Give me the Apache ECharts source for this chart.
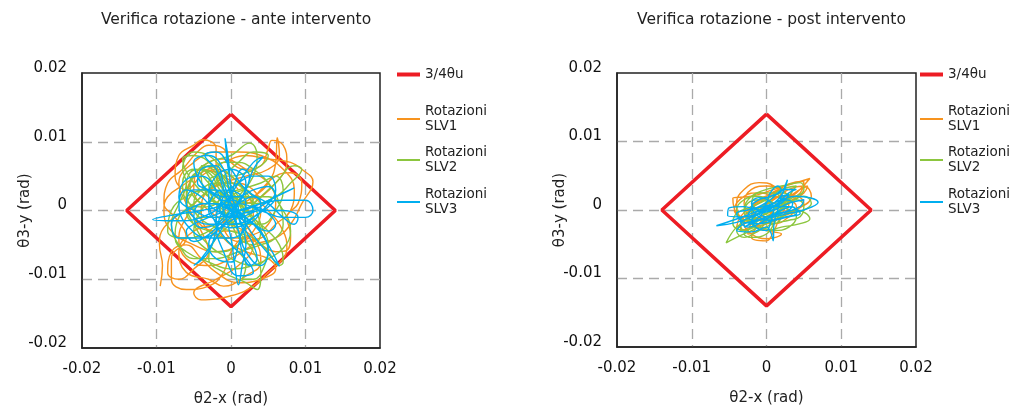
<!DOCTYPE html>
<html>
<head>
<meta charset="utf-8">
<script src="https://cdn.jsdelivr.net/npm/echarts@6/dist/echarts.min.js"></script>
<style>html,body{margin:0;padding:0;background:#fff}#c{width:1014px;height:414px}</style>
</head>
<body>
<div id="c"></div>
<script>
// values in milliradians (converted to rad below)
const titles = ['Verifica rotazione - ante intervento', 'Verifica rotazione - post intervento'];
const seriesNames = ['3/4\u03b8u', 'Rotazioni\nSLV1', 'Rotazioni\nSLV2', 'Rotazioni\nSLV3'];
const xAxisName = '\u03b82-x (rad)';
const yAxisName = '\u03b83-y (rad)';
const axisTicks = [-0.02, -0.01, 0, 0.01, 0.02];
const limitDiamond = [[0,14],[14,0],[0,-14],[-14,0],[0,14]];

const anteSLV1 = [[-9.5,-11],[-9.2,-8],[-9.6,-5],[-9,-2.5],[-6,0],[-3,1],[0,0],[2,-2],[3,-5],[1,-8],[-2,-10],[-5,-12],[-4,-13],[0,-12.4],[3,-11],[5,-9],[7,-7],[7.5,-5.5],[7,-3],[5,0],[2,3],[0,5],[-2,6],[-4,5],[-6,3],[-7.5,5],[-7,8],[-5,9.5],[-3.8,10.3],[-2,9],[-2,6],[-1,3],[1,1],[3,2],[5,4],[6,7],[6.2,10.6],[6.5,8],[5,6],[2,5],[-1,4],[-4,2],[-6,-1],[-7,-4],[-6,-7],[-3,-8],[0,-7],[3,-5],[6,-4],[8,-2],[9.5,1],[11,4.2],[9.5,6],[8,7],[5,7.5],[2,8],[-1,7],[-4,5.5],[-6,4],[-8.5,2],[-9,0],[-8,-3],[-5,-5],[-2,-6],[1,-5],[3,-3],[4,0],[3,3],[0,4],[-3,3],[-4,0],[-3,-3],[0,-4],[3,-3.5],[5,-2],[6,1],[5,4],[2,6],[-1,7.5],[-3,7],[-5,5],[-6,2],[-5,-1],[-2,-3],[1,-3],[3,-1],[2,2],[-1,2],[-2,-1],[-1,-4],[2,-6],[5,-7],[6,-8.5],[4,-10],[1,-10.5],[-2,-9],[-4,-7],[-6,-5],[-8,-6],[-8.5,-9],[-7,-10],[-5,-8.5],[-3,-6],[-4,-3],[-6,1],[-7,4],[-5,7],[-2,8.5],[1,8.5],[4,8],[7,6],[8.5,3],[8,0],[6,-2],[4,-4],[1,-4.5],[-1,-2],[0,1],[2,1],[4,3],[6,5],[8,5.5],[9.5,4],[9,1],[7.5,-1],[8,-3.5],[7.5,-5.8],[6,-6],[4,-5],[2,-4],[0,-6],[-1,-9],[-3,-11],[-6,-11.5],[-8,-10],[-8,-7],[-6,-4],[-7.5,-1],[-9,1],[-8.5,4],[-6.5,6],[-4.5,8.5],[-3,9.5],[-1,9],[0,7],[2,6],[4,6.5],[5,9],[5.5,10.2],[7,9.5],[7.5,7],[6,4],[3,1],[1,-1],[-2,-2],[-5,-3],[-7,-6],[-6,-9],[-3,-10],[-1,-11],[2,-9.5],[4,-7.5],[3,-4],[0,-2],[-3,0],[-5,3],[-4,6],[-1,5],[1,3]];

const anteSLV2 = [[0,0],[-3,2],[-5,4],[-6.5,7.5],[-5,8],[-2,6],[0,3],[2,0],[4,-3],[5,-6],[3,-8],[0,-7],[-3,-5],[-5,-2],[-6,1],[-5,5],[-3,7],[0,8],[2.5,9.8],[3.5,8],[3,5],[1,2],[-1,-1],[-3,-3],[-6,-4],[-8.5,-3],[-8,0],[-6,2],[-3,3],[0,2],[3,1],[6,2],[8,4],[9.5,6],[8.5,6.5],[6,4],[4,2],[2,0],[0,-2],[-2,-4],[-3,-7],[-1,-9],[2,-10.5],[3.5,-11.5],[4,-9],[3,-6],[1,-3],[-1,0],[-3,2],[-4,5],[-3,6.5],[-1,5],[1,2],[3,-1],[5,-3],[6.5,-5],[7,-7.5],[6.5,-8],[5,-6],[3,-4],[0,-3],[-3,-2],[-5,0],[-6,3],[-5.5,5.5],[-4,6],[-1,4],[1,1],[2,-2],[1,-5],[-2,-6],[-4,-5],[-5,-3],[-4,0],[-2,2],[1,3],[4,4],[6,5],[7,3],[6,0],[4,-2],[1,-2],[-1,0],[0,2],[2,3],[3,1],[2,-1],[0,-1],[-2,1],[-3,4],[-2,5],[0,5],[2,5.5],[4,6.5],[5,8],[3,8.5],[1,7],[-1,5],[-3,3],[-5,1],[-7,-1],[-7.5,-4],[-6,-6],[-3,-7.5],[0,-8.5],[3,-8],[5,-7],[7,-5.5],[8,-3],[7,0],[5,2],[2,2],[0,1],[-2,2],[-4,3],[-5.5,2],[-6,0],[-5,-2],[-3,-3],[-1,-4],[1,-6],[2,-8],[1.5,-10],[3,-10],[4.5,-8],[5,-5],[4,-2],[3,1],[1,4],[-1,6],[-3,8],[-5,8.5],[-6.5,6],[-6,4],[-7,1],[-8,-2],[-7,-5],[-5,-7],[-2,-7],[1,-6],[4,-5],[6,-4],[7,-2],[6.5,1],[5,4],[3,6],[1,7],[-1,7],[-2,5],[-1,3],[1,1],[3,-1],[4,-3],[3,-5],[1,-4],[0,-2],[-2,-1],[-4,-1],[-5,1],[-4,3],[-2,4],[0,4],[2,2],[2,0],[1,0],[-1,2],[-3,4],[-4.5,5.5],[-5.5,4],[-5,2],[-3.5,1],[-2,2.5],[-3,5],[-4,6.5],[-2.5,6],[-1,3.5],[-2,1],[-4,0.5],[-6,1.5],[-6.5,4],[-5,6],[-3,5.5],[-1.5,3],[0,1]];

const anteSLV3 = [[0,0],[2,3],[3,6],[4.3,7.8],[3,7],[1,4],[-1,1],[-4,-1],[-7,-1.5],[-10.5,-1.3],[-7,-0.5],[-4,0],[-1,1],[0,3],[-0.5,7],[-0.8,10.5],[-0.3,7],[0,3],[1,-1],[2,-5],[1.5,-8],[1,-10.8],[0.5,-8],[0,-4],[-1,0],[-2,3],[-4,5],[-6,4.5],[-7,2],[-5,0],[-2,-1],[1,0],[4,1],[7,1.5],[10,1.5],[11,0],[10,-1],[7,-1],[4,0],[1,1],[-1,0],[-2,-3],[-3,-6],[-5,-8],[-4,-7],[-2,-4],[0,-1],[3,0],[6,2],[8.5,3.3],[7,2.5],[4,1],[1,0],[-2,2],[-4,4],[-5,7],[-3,8],[-1,6],[0,2],[2,-2],[4,-5],[6.5,-8.1],[5,-5],[3,-2],[0,0],[-3,1],[-6,0],[-8,-2],[-7,-4],[-4,-4],[-1,-2],[1,1],[2,4],[0,6],[-2,5],[-3,2],[-2,-2],[0,-5],[2,-7],[3,-9],[1,-9.5],[-1,-6],[-2,-2],[-1,2],[1,4],[3,5],[5,5],[6,3],[5,1],[3,-1],[0,-2],[-3,-2],[-5,-1],[-6,1],[-5,3],[-2,3],[0,1],[2,-1],[4,-3],[5,-6],[4,-8],[2,-6],[1,-3],[0,0],[-1,3],[-2,6],[-3.5,8],[-2,8.5],[0,6],[2,3],[5,1],[7,-1],[8.5,-2],[9,-1],[7,0],[4,0],[1,-1],[-2,0],[-4,2],[-6,3],[-7,1],[-6,-2],[-3,-4],[0,-4],[2,-2],[1,0],[-1,1],[0,0],[1,1],[3,2],[4,1],[3.5,-1],[2,-2],[0,-2.5],[-2,-1.5],[-3,0],[-2.5,2],[-1,3],[1,2.5],[2,1],[1.5,-0.5],[0,-1],[-1.5,0],[-1,1.5],[0.5,1.5],[1,0],[0,-1.5],[-2,-3],[-3,-5],[-2,-7],[0,-7.5],[1,-5],[1.5,-3],[3,-1],[5,0.5],[6,2],[5,3.5],[3,3],[1,2],[-1,2],[-3,3],[-4.5,4],[-4,6],[-2,6.5],[-1,4],[0,1],[1,-1],[2,-3],[3,-5],[3.5,-7],[2.5,-8],[1.5,-6],[1,-3],[0,0],[-2,1],[-4,1],[-5,-1],[-4,-2.5],[-2,-2],[-0.5,-0.5],[1,1],[2,3],[2.5,5],[1.5,6],[0.5,4],[0,2],[-1,0],[-3,-1],[-5,-2],[-6,-3],[-5,-4.5],[-3,-3.5],[-1,-1.5],[1,0],[3,0.5],[5,-0.5],[6,-2],[5,-3],[3,-2],[1,-1],[0,0]];

const postSLV1 = [[0,0],[2,1],[4,2.5],[5.8,4.6],[4,4],[1,3],[-2,2],[-4.5,1.7],[-4,-0.5],[-2,-2],[0,-3],[2,-3.5],[0,-4.2],[-2,-3.5],[-3,-2],[-1,0],[1,1.5],[3,3],[5,3.5],[6,2],[4,0],[2,-1],[0,-1.5],[-2,-1],[-3,1],[-2,3],[0,3.5],[2,3],[3,1],[2,-1],[0,-2],[-2,-2.5],[-3.5,-3],[-3,-1],[-1,1],[1,2],[3,1.5],[4,0.5],[3,-1],[1,-2],[-1,-1.5],[-2,0],[-1,1.5],[1,2.5],[3,3.8],[5,4.2],[4.5,2.5],[2,0.5],[0,-0.5],[-2,-1.5],[-3.5,-1],[-4,1],[-3,3],[-1,4],[1,3.5],[2,2],[1,0],[-1,-2],[-2,-4],[0,-4.5],[1,-3],[2,-1],[3.5,0],[5,1],[4,2],[2,2],[0,1],[-1,0],[1,1],[3,2],[4.5,3],[5.5,3.5],[5,2.5],[3,1],[1,0],[-1,-1],[-3,-2],[-4,-2.5],[-3.5,-1],[-2,0.5],[0,2],[2,3],[3.5,3],[3,2],[1,1],[-1,-0.5],[-3,-1],[-4.3,0],[-3,2],[-1,2.5],[1,2],[2.5,1],[2,-0.5],[0,-1],[-2,-2],[-2.5,-3.5],[-1,-3],[0,-1.5],[1,0]];

const postSLV2 = [[0,0],[-2,-1],[-4,-2.5],[-5.4,-4.8],[-4,-4],[-2,-3],[0,-2],[2,-1],[4,0],[5.8,-1.3],[4.5,-2],[2,-2.5],[0,-3],[-2,-2],[-3,0],[-2,2],[0,3],[2,3.5],[4.5,4],[5,3],[3,1.5],[1,0],[-1,-1],[-3,-1.5],[-4,0],[-3,1.5],[-1,2],[1,1],[3,0],[4,-1],[3,-2.5],[1,-3],[-1,-2.5],[-3,-3.5],[-2,-4],[0,-3.5],[1,-2],[2,0],[3,2],[4,3.5],[2,3],[0,1.5],[-2,0.5],[-4,-0.5],[-4.5,-2],[-3,-3],[-1,-1.5],[1,-0.5],[3,1],[5,2],[6,1],[5,0],[3,-0.5],[1,-1],[-1,0],[-2,1],[-1,2.5],[1,2.5],[2,1],[1,-1],[-1,-1.5],[-2,-0.5],[0,0.5],[1.5,0.5],[0,-0.5],[-1,-1],[-3,-2],[-4,-3],[-3,-4],[-1,-3],[1,-2],[3,-1.5],[4.5,-1],[5,0.5],[4,1.5],[2,1],[0,0],[-2,-1],[-3.5,-2],[-3,-3],[-1,-2],[1,-1],[2.5,0.5],[3,2],[2,2.5],[0,1],[-1.5,0],[-3,-0.5],[-2.5,1],[-1,1.5],[1,0.5],[2,-1],[1,-2],[0,-1]];

const postSLV3 = [[0,0],[-2,-1],[-4,-1.8],[-6.7,-2.3],[-4.5,-1.5],[-2,-0.5],[0,0.5],[2,1.5],[4,2],[6.9,1.1],[5,0],[3,-0.5],[1,-1],[-1,-1.5],[-3,-2],[-4,-3],[-2,-3.2],[0,-2.5],[0.9,-4.5],[1,-2],[1.5,0],[2,2],[2.8,4.4],[2.2,2.5],[1,1],[-1,0],[-3,0.5],[-5,0.3],[-5.2,-0.8],[-3,-1],[-1,-0.5],[1,0],[3,1],[5,1.5],[4.5,0.5],[2,-0.5],[0,-1],[-2,-2],[-3,-2.5],[-1.5,-1.5],[0,0],[1.5,1],[3,2.5],[4,3],[2.5,3],[0.5,1.5],[-1,0.5],[-2.5,0],[-4,-0.5],[-3,-1.8],[-1,-2],[1,-1.5],[3,-1],[4.5,-0.5],[3,0.5],[1,0.5],[-1,0],[-2,1],[-1,1.8],[0.5,1.2],[1,0],[0,-1],[-1,-0.5],[0,0],[1,0.5],[2.5,1.5],[3.5,1],[3,0],[1.5,-0.5],[0,-1],[-1.5,-1.5],[-2.5,-1],[-2,0],[-0.5,0.5],[1,1],[2,2],[3,2.2],[2,1],[0,0],[-2,-0.5],[-3.5,-1.5],[-2.5,-2.5],[-1,-2],[0.5,-1],[2,0],[3.5,0.5],[4,-0.5],[2.5,-1],[0.5,-1.5],[-1,-1],[-2,0.5],[-1,1.5],[0.5,2],[2,2.8],[1.5,3.5],[0.5,2.5],[0,1],[-1,-0.5],[-2,-1.5],[-1,-2.8],[0,-3],[0.5,-2],[1,0],[0,0]];

const colors = ['#ED1C24', '#F7931E', '#8CC63F', '#00AEEF'];
const panels = [
  [limitDiamond, anteSLV1, anteSLV2, anteSLV3],
  [limitDiamond, postSLV1, postSLV2, postSLV3]
];
const toRad = arr => arr.map(p => [p[0] / 1000, p[1] / 1000]);

const FONT = 'DejaVu Sans';
const grids = [
  {left: 82, top: 73, width: 298, height: 275},
  {left: 617, top: 73, width: 299, height: 274}
];
const legendLeft = [397, 920];
const legendTops = [67, 104, 145, 187];

const option = {
  animation: false,
  textStyle: {fontFamily: FONT},
  title: titles.map((t, i) => ({
    text: t, left: grids[i].left + grids[i].width / 2, top: 7, textAlign: 'center',
    textStyle: {fontFamily: FONT, fontSize: 15.5, fontWeight: 'normal', color: '#222'}
  })),
  grid: grids.map(g => Object.assign({show: true, borderColor: '#222', borderWidth: 1.5, backgroundColor: 'transparent'}, g)),
  xAxis: grids.map((g, i) => ({
    type: 'value', gridIndex: i, min: axisTicks[0], max: axisTicks[axisTicks.length - 1], interval: 0.01,
    name: xAxisName, nameLocation: 'middle', nameGap: 44, nameMoveOverlap: false,
    nameTextStyle: {fontFamily: FONT, fontSize: 15, color: '#222'},
    axisLine: {show: true, onZero: false, lineStyle: {color: '#222', width: 1.5}},
    axisTick: {show: false},
    axisLabel: {fontFamily: FONT, fontSize: 15, color: '#111', margin: 14},
    splitLine: {show: true, showMinLine: false, showMaxLine: false, lineStyle: {color: '#aaa', type: [10, 6], width: 1.3}}
  })),
  yAxis: grids.map((g, i) => ({
    type: 'value', gridIndex: i, min: axisTicks[0], max: axisTicks[axisTicks.length - 1], interval: 0.01,
    name: yAxisName, nameLocation: 'middle', nameGap: 49, nameRotate: 90, nameMoveOverlap: false,
    nameTextStyle: {fontFamily: FONT, fontSize: 15, color: '#222'},
    axisLine: {show: true, onZero: false, lineStyle: {color: '#222', width: 1.5}},
    axisTick: {show: false},
    axisLabel: {fontFamily: FONT, fontSize: 15, color: '#111', margin: 15, verticalAlign: 'bottom', lineHeight: 10},
    splitLine: {show: true, showMinLine: false, showMaxLine: false, lineStyle: {color: '#aaa', type: [10, 6], width: 1.3}}
  })),
  legend: [],
  series: []
};

panels.forEach((pan, pi) => {
  pan.forEach((d, si) => {
    const name = seriesNames[si] + (pi === 1 ? ' ' : '');
    option.series.push({
      type: 'line', name: name, xAxisIndex: pi, yAxisIndex: pi,
      data: toRad(d), showSymbol: false, symbol: 'none',
      smooth: si === 0 ? false : 0.45,
      z: 2 + si,
      lineStyle: {color: colors[si], width: si === 0 ? 3.5 : 1.4},
      itemStyle: {color: colors[si]}
    });
    option.legend.push({
      data: [name], left: legendLeft[pi], top: legendTops[si], orient: 'vertical',
      padding: 0,
      icon: 'rect', itemWidth: 23, itemHeight: si === 0 ? 4 : 2, itemGap: 0,
      selectedMode: false,
      textStyle: {fontFamily: FONT, fontSize: 13.5, color: '#222', lineHeight: 15},
      itemStyle: {color: colors[si]}
    });
  });
});

const chart = echarts.init(document.getElementById('c'), null, {renderer: 'canvas'});
chart.setOption(option);
</script>
</body>
</html>
